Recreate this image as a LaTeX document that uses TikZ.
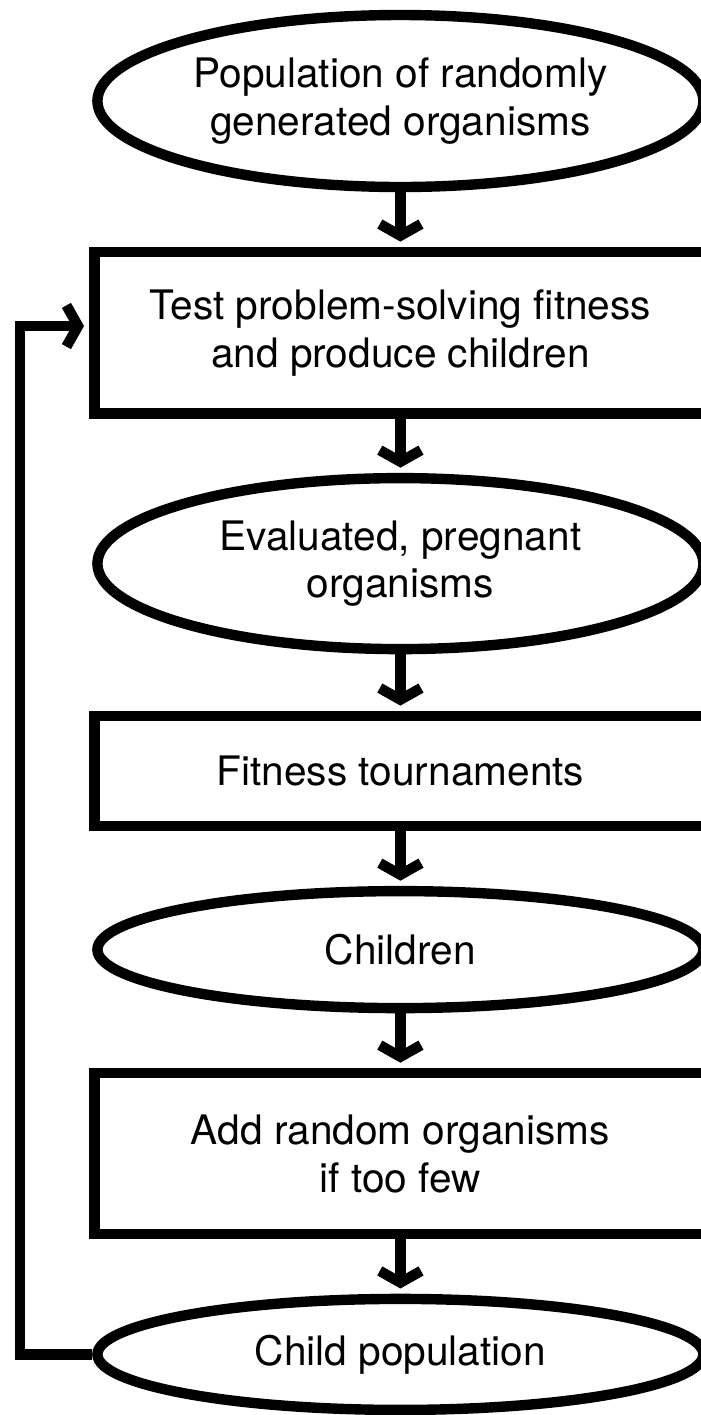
\documentclass[tikz,border=0pt]{standalone}
\usepackage{fontspec}
\setmainfont{TeX Gyre Heros}
\usetikzlibrary{arrows.meta, shapes.geometric}

\begin{document}
\begin{tikzpicture}[
    stage/.style={draw, line width=0.26cm, minimum width=15.3cm,
      inner sep=0pt, align=center, font=\fontsize{28.9}{34}\selectfont},
    pool/.style={draw, ellipse, line width=0.26cm, minimum width=15.15cm,
      inner sep=0pt, align=center, font=\fontsize{28.9}{34}\selectfont},
    arr/.style={-{Straight Barb[sharp, length=0.29cm, width=1.03cm]},
      line width=0.26cm, shorten >=0.13cm},
  ]
    \useasboundingbox (0,0) rectangle (17.525,-35.375);

    % ═══ Main column ═══
    \node[pool, minimum height=4.3cm] (pop) at (10.01, -2.525)
      {Population of randomly\\generated organisms};
    \node[stage, minimum height=4.04cm] (test) at (10.01, -8.32)
      {Test problem-solving fitness\\and produce children};
    \node[pool, minimum height=4.275cm] (evald) at (10.01, -14.09)
      {Evaluated, pregnant\\organisms};
    \node[stage, minimum height=2.75cm] (tourn) at (10.01, -19.275)
      {Fitness tournaments};
    \node[pool, minimum height=2.925cm] (kids) at (10.01, -23.74)
      {Children};
    \node[stage, minimum height=4.025cm] (addrand) at (10.01, -28.84)
      {Add random organisms\\if too few};
    \node[pool, minimum height=2.775cm] (childpop) at (10.01, -33.86)
      {Child population};

    % Downward arrows
    \draw[arr] (pop) -- (test);
    \draw[arr] (test) -- (evald);
    \draw[arr] (evald) -- (tourn);
    \draw[arr] (tourn) -- (kids);
    \draw[arr] (kids) -- (addrand);
    \draw[arr] (addrand) -- (childpop);

    % Feedback loop on the left
    \coordinate (loop) at (0.5, 0);
    \draw[arr] (childpop.west) -- (childpop.west -| loop)
      |- ([yshift=0.17cm]test.west);
  \end{tikzpicture}
\end{document}
